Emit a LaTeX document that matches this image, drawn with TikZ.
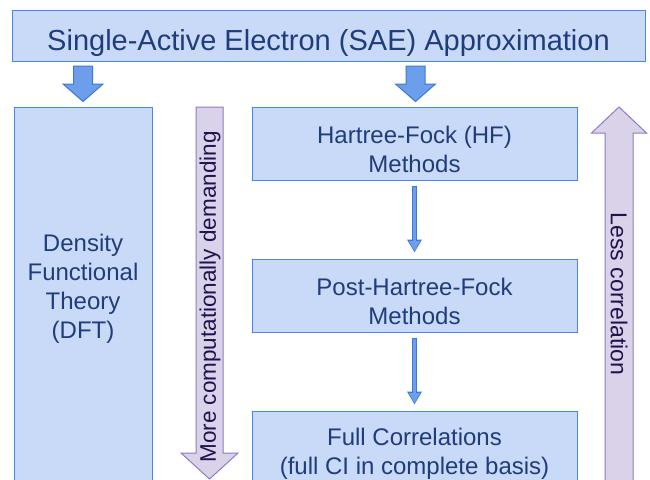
\documentclass[tikz,border=0pt]{standalone}
\usepackage{fontspec}
\setmainfont{Liberation Sans}
\usetikzlibrary{positioning,calc,arrows.meta}
\definecolor{boxfill}{HTML}{C9DAF8}
\definecolor{boxline}{HTML}{4A86E8}
\definecolor{boxtext}{HTML}{1F3D7A}
\definecolor{arrowfill}{HTML}{6D9EEB}
\definecolor{arrowline}{HTML}{3C78D8}
\definecolor{trendfill}{HTML}{D9D2E9}
\definecolor{trendline}{HTML}{8E7CC3}
\definecolor{trendtext}{HTML}{20124D}

% style, x, tail y, head base y, tip y, half shaft, half head
\newcommand{\blockarrow}[7]{%
  \path[#1] (#2-#6,#3) -- (#2-#6,#4) -- (#2-#7,#4) -- (#2,#5)
    -- (#2+#7,#4) -- (#2+#6,#4) -- (#2+#6,#3) -- cycle;
}

\begin{document}
\begin{tikzpicture}[
  x = 1pt,
  y = -1pt,
  box/.style = {
    draw = boxline,
    fill = boxfill,
    line width = 1pt,
    text = boxtext,
    align = center,
    inner sep = 0pt,
    font = \fontsize{24}{28.5}\selectfont,
  },
  boxlabel/.style = {
    text = boxtext,
    align = center,
    inner sep = 0pt,
    yshift = -6pt,
    font = \fontsize{24}{28.5}\selectfont,
  },
  method/.style = {
    box,
    minimum width = 325pt,
    minimum height = 73pt,
  },
  blockdown/.style = {
    draw = arrowline,
    fill = arrowfill,
    line width = 1pt,
  },
  trend/.style = {
    draw = trendline,
    fill = trendfill,
    line width = 1pt,
  },
  trendlabel/.style = {
    text = trendtext,
    inner sep = 0pt,
    font = \fontsize{22.5}{27}\selectfont,
  },
  flow/.style = {
    draw = arrowline,
    line width = 5pt,
    shorten <= 5pt,
    shorten >= 6pt,
    -{Triangle[width=14pt,length=13pt]},
    postaction = {
      draw = arrowfill,
      line width = 3pt,
      shorten <= 6pt,
      shorten >= 7.4pt,
      -{Triangle[width=10.5pt,length=10pt]},
    },
  },
]

  \fill[white] (0,0) rectangle (650,479);
  \useasboundingbox (0,0) rectangle (650,479);
  \clip (0,0) rectangle (650,479);

  \node[box,minimum width=633pt,minimum height=51pt,
    label={[boxlabel,yshift=-1.5pt,font=\fontsize{29}{34}\selectfont]center:Single-Active Electron (SAE) Approximation}] (sae) at (328.5,35.5) {};

  \blockarrow{blockdown}{83}{66}{84}{101.5}{9.5}{20}
  \blockarrow{blockdown}{415.5}{66}{84}{101.5}{9.5}{20}

  \node[box,minimum width=138pt,minimum height=393pt] (dft) at (83,303.5) {};
  \node[boxlabel,font=\fontsize{24}{29}\selectfont] (dftlabel) at (83,283) {Density\\Functional\\Theory\\(DFT)};

  \node[method,label={[boxlabel]center:Hartree-Fock (HF)\\Methods}] (hf) at (414.5,143.5) {};
  \node[method,label={[boxlabel]center:Post-Hartree-Fock\\Methods}] (phf) [below=78pt of hf] {};
  \node[method,minimum height=86pt,label={[boxlabel,yshift=6pt]center:Full Correlations\\(full CI in complete basis)}] (fc) [below=78pt of phf] {};

  \draw[flow] (hf) -- (phf);
  \draw[flow] (phf) -- (fc);

  \blockarrow{trend}{209.5}{107}{453}{479}{13.5}{28.5}
  \node[trendlabel,rotate=90] (more) at (210,297) {More computationally demanding};

  \blockarrow{trend}{619}{500}{133}{107}{14}{27.5}
  \node[trendlabel,rotate=-90,font=\fontsize{23}{27}\selectfont] (less) at (619,294) {Less correlation};

\end{tikzpicture}
\end{document}
